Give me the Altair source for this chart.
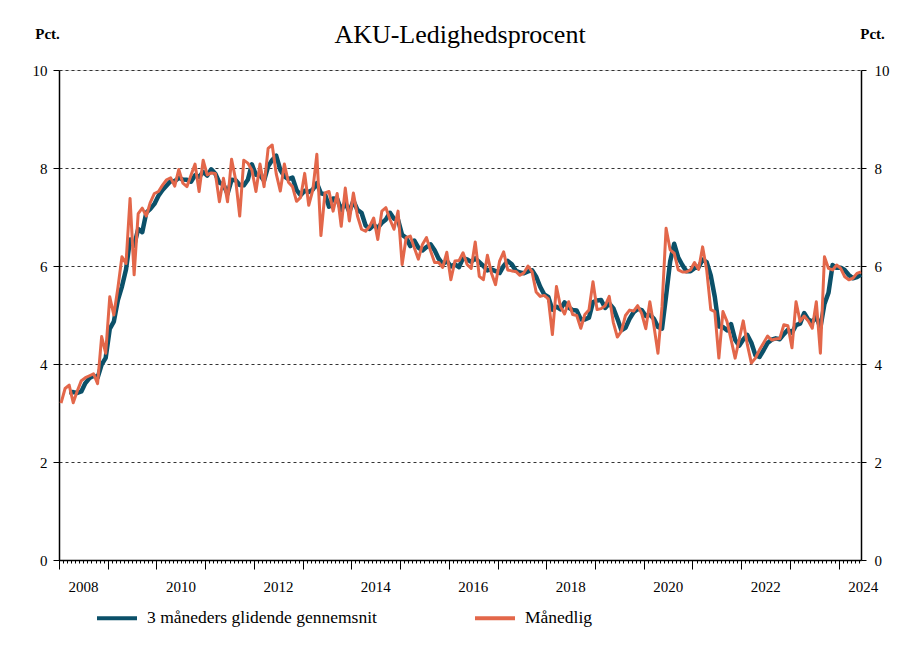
import altair as alt
import pandas as pd

# ---------------- data ----------------
start_year = 2008
series_ma = "3 måneders glidende gennemsnit"
series_m = "Månedlig"

# Monthly AKU unemployment rate, Jan 2008 - Jun 2024 (pct.)
monthly_2008 = [3.20, 3.50, 3.57, 3.21, 3.45, 3.66, 3.72, 3.76, 3.80, 3.60, 4.56, 4.22]
monthly_2009 = [5.37, 5.00, 5.55, 6.19, 6.05, 7.38, 5.82, 7.07, 7.18, 7.02, 7.30, 7.48]
monthly_2010 = [7.52, 7.65, 7.76, 7.80, 7.63, 7.97, 7.69, 7.62, 7.85, 8.08, 7.52, 8.16]
monthly_2011 = [7.86, 7.90, 7.89, 7.31, 7.79, 7.31, 8.18, 7.76, 7.02, 8.16, 8.10, 7.96]
monthly_2012 = [7.52, 8.08, 7.62, 8.40, 8.47, 7.88, 7.53, 8.08, 7.71, 7.62, 7.32, 7.40]
monthly_2013 = [7.89, 7.24, 7.55, 8.28, 6.62, 7.49, 7.52, 7.12, 7.48, 6.81, 7.59, 6.92]
monthly_2014 = [7.49, 7.02, 6.75, 6.71, 6.81, 6.98, 6.54, 7.12, 7.19, 6.95, 6.75, 7.12]
monthly_2015 = [6.03, 6.58, 6.61, 6.37, 6.14, 6.44, 6.58, 6.31, 6.07, 6.07, 5.97, 6.28]
monthly_2016 = [5.72, 6.10, 6.11, 6.27, 6.03, 5.95, 6.49, 5.79, 5.72, 6.22, 5.85, 5.62]
monthly_2017 = [6.10, 6.29, 5.92, 5.90, 5.89, 5.81, 5.86, 6.00, 5.88, 5.47, 5.38, 5.40]
monthly_2018 = [5.33, 4.60, 5.58, 5.17, 5.02, 5.27, 5.01, 4.99, 4.73, 5.01, 5.10, 5.68]
monthly_2019 = [5.11, 5.13, 5.19, 5.38, 4.85, 4.55, 4.67, 4.99, 5.10, 5.08, 5.19, 5.03]
monthly_2020 = [4.72, 5.27, 4.78, 4.22, 5.17, 6.77, 6.33, 6.26, 5.92, 5.88, 5.88, 5.92]
monthly_2021 = [6.07, 5.93, 6.39, 5.92, 5.11, 5.07, 4.12, 5.07, 4.87, 4.50, 4.12, 4.50]
monthly_2022 = [4.88, 4.40, 4.02, 4.12, 4.29, 4.43, 4.57, 4.49, 4.51, 4.52, 4.80, 4.78]
monthly_2023 = [4.33, 5.27, 4.87, 4.98, 4.88, 4.73, 5.27, 4.22, 6.19, 5.95, 5.92, 6.02]
monthly_2024 = [5.95, 5.78, 5.72, 5.75, 5.85, 5.88]

monthly = (monthly_2008 + monthly_2009 + monthly_2010 + monthly_2011 + monthly_2012
           + monthly_2013 + monthly_2014 + monthly_2015 + monthly_2016 + monthly_2017
           + monthly_2018 + monthly_2019 + monthly_2020 + monthly_2021 + monthly_2022
           + monthly_2023 + monthly_2024)

y_ticks = [0, 2, 4, 6, 8, 10]
year_ticks = list(range(2008, 2025))

# ---------------- styling ----------------
FONT = "Liberation Serif"
TEAL = "#0b5069"
ORANGE = "#e3674a"

n = len(monthly)
df = pd.DataFrame({
    "t": [start_year + (i + 0.5) / 12 for i in range(n)],
    "value": monthly,
})
x_domain = [start_year, start_year + (n - 0.5) / 12]
month_ticks = [start_year + k / 12 for k in range(n)]

x_scale = alt.Scale(domain=x_domain, nice=False, zero=False)
y_scale = alt.Scale(domain=[0, 10], nice=False, zero=True)

color = alt.Color(
    "series:N",
    scale=alt.Scale(domain=[series_ma, series_m], range=[TEAL, ORANGE]),
    legend=alt.Legend(
        title=None, orient="none", legendX=36, legendY=526,
        direction="horizontal", columns=2, columnPadding=90,
        symbolType="stroke", symbolSize=1600, symbolStrokeWidth=4,
        labelFont=FONT, labelFontSize=17.5, labelColor="black", labelOffset=8,
        labelLimit=500, padding=0,
    ),
)

x_major = alt.X(
    "t:Q", scale=x_scale,
    axis=alt.Axis(
        orient="bottom", values=year_ticks, format="d",
        labelExpr="datum.value % 2 == 0 ? datum.label : ''",
        labelOffset=24, labelOverlap=False, labelFlush=False,
        tickSize=9, labelPadding=10, tickColor="black", tickWidth=1,
        domainColor="black", domainWidth=1.5, grid=False, title=None,
        labelFont=FONT, labelFontSize=15, labelColor="black",
    ),
)
x_minor = alt.X(
    "t:Q", scale=x_scale,
    axis=alt.Axis(
        orient="bottom", values=month_ticks, labels=False, domain=False,
        tickSize=3, tickColor="black", tickWidth=1, grid=False, title=None,
    ),
)

y_left = alt.Y(
    "ma:Q", scale=y_scale,
    axis=alt.Axis(
        orient="left", values=y_ticks, grid=True, gridDash=[3, 3],
        gridColor="#333333", gridWidth=1, tickSize=6, tickColor="black",
        labelPadding=6, domainColor="black", domainWidth=1.5,
        labelFont=FONT, labelFontSize=15, labelColor="black",
        title="Pct.", titleAngle=0, titleX=-12, titleY=-37,
        titleAlign="center", titleBaseline="middle", titleFont=FONT,
        titleFontSize=15, titleFontWeight="bold", titleColor="black",
    ),
)
y_right = alt.Y(
    "value:Q", scale=y_scale,
    axis=alt.Axis(
        orient="right", values=y_ticks, grid=False, tickSize=5,
        tickColor="black", labelPadding=8, domainColor="black",
        domainWidth=1.5, labelFont=FONT, labelFontSize=15, labelColor="black",
        title="Pct.", titleAngle=0, titleX=11, titleY=-37,
        titleAlign="center", titleBaseline="middle", titleFont=FONT,
        titleFontSize=15, titleFontWeight="bold", titleColor="black",
    ),
)

base = alt.Chart(df)

ma_line = (
    base.transform_window(
        ma="mean(value)", cnt="count()", frame=[-2, 0], sort=[alt.SortField("t")]
    )
    .transform_filter("datum.cnt == 3")
    .transform_calculate(series=f"'{series_ma}'")
    .mark_line(strokeWidth=4.5, strokeJoin="round")
    .encode(x=x_major, y=y_left, color=color)
)

month_line = (
    base.transform_calculate(series=f"'{series_m}'")
    .mark_line(strokeWidth=3, strokeJoin="round")
    .encode(x=x_minor, y=y_right, color=color)
)

chart = (
    alt.layer(ma_line, month_line)
    .resolve_axis(x="independent", y="independent")
    .properties(
        width=802, height=490,
        autosize=alt.AutoSizeParams(type="none"),
        padding={"left": 51, "top": 62, "right": 37, "bottom": 78},
        title=alt.Title(
            "AKU-Ledighedsprocent", font=FONT, fontSize=26,
            fontWeight="normal", color="black", anchor="middle", offset=0, dy=22,
        ),
    )
    .configure_view(stroke=None)
    .configure(background="white")
)

chart.save("out.html", embed_options={"renderer": "svg", "actions": False})
